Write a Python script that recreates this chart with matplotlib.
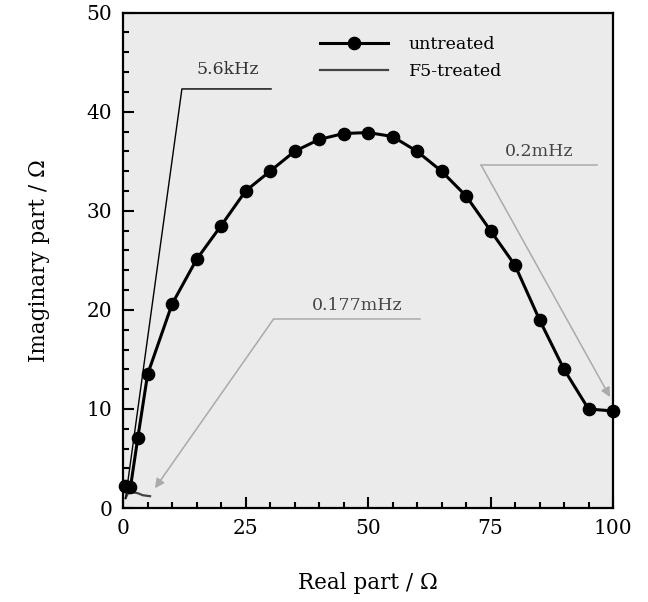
import numpy as np
import matplotlib
matplotlib.use("Agg")
import matplotlib.pyplot as plt
from matplotlib.ticker import MultipleLocator

plt.rcParams['font.family'] = ['DejaVu Serif']
plt.rcParams['mathtext.fontset'] = 'dejavuserif'

# untreated impedance (Nyquist)
re_untreated = [0.3, 1.5, 3.0, 5.0, 10.0, 15.0, 20.0, 25.0, 30.0, 35.0, 40.0, 45.0,
                50.0, 55.0, 60.0, 65.0, 70.0, 75.0, 80.0, 85.0, 90.0, 95.0, 100.0]
im_untreated = [2.2, 2.1, 7.1, 13.5, 20.6, 25.1, 28.5, 32.0, 34.0, 36.0, 37.2, 37.8,
                37.9, 37.5, 36.0, 34.0, 31.5, 28.0, 24.5, 19.0, 14.0, 10.0, 9.8]
# F5-treated (small arc near origin)
re_treated = [0.5, 1.0, 2.0, 3.0, 4.0, 5.5]
im_treated = [1.0, 1.5, 1.6, 1.5, 1.3, 1.2]

fig = plt.figure(figsize=(6.48, 6.02), dpi=100)
ax = fig.add_axes([0.19, 0.156, 0.756, 0.823])
ax.set_facecolor('#ebebeb')

ax.plot(re_untreated, im_untreated, 'k-', lw=2.2, marker='o', ms=8.8,
        clip_on=False, zorder=4, label='untreated')
ax.plot(re_treated, im_treated, '-', color='#444444', lw=1.6, label='F5-treated')

# frequency annotations
ax.plot([0.5, 12.0, 30.2], [1.0, 42.3, 42.3], 'k-', lw=1.0)
ax.text(21.4, 43.4, '5.6kHz', ha='center', va='bottom', fontsize=12.5, color='#333333')

ax.plot([73.1, 96.8], [34.6, 34.6], '-', color='#aaaaaa', lw=1.1)
ax.annotate('', xy=(99.4, 11.2), xytext=(73.1, 34.6),
            arrowprops=dict(arrowstyle='-|>', color='#aaaaaa', lw=1.1,
                            mutation_scale=14, shrinkA=0, shrinkB=0))
ax.text(85.0, 35.1, '0.2mHz', ha='center', va='bottom', fontsize=12.5, color='#444444')

ax.plot([30.7, 60.5], [19.07, 19.07], '-', color='#aaaaaa', lw=1.1)
ax.annotate('', xy=(6.5, 2.0), xytext=(30.7, 19.07),
            arrowprops=dict(arrowstyle='-|>', color='#aaaaaa', lw=1.1,
                            mutation_scale=14, shrinkA=0, shrinkB=0))
ax.text(47.8, 19.6, '0.177mHz', ha='center', va='bottom', fontsize=12.5, color='#444444')

ax.set_xlim(0, 100)
ax.set_ylim(0, 50)
ax.xaxis.set_major_locator(MultipleLocator(25))
ax.xaxis.set_minor_locator(MultipleLocator(5))
ax.yaxis.set_major_locator(MultipleLocator(10))
ax.yaxis.set_minor_locator(MultipleLocator(2))
ax.tick_params(which='both', direction='in', width=1.5, labelsize=14.5, pad=8)
ax.tick_params(which='major', length=8)
ax.tick_params(which='minor', length=4)
for s in ax.spines.values():
    s.set_linewidth(1.6)

ax.set_xlabel('Real part / Ω', fontsize=15.5, labelpad=24)
ax.set_ylabel('Imaginary part / Ω', fontsize=15.5, labelpad=26)

ax.legend(loc='upper left', bbox_to_anchor=(0.37, 0.985), frameon=False,
          fontsize=12.5, handlelength=3.9, handletextpad=1.2, labelspacing=0.6)

plt.savefig('out.png', dpi=100)
